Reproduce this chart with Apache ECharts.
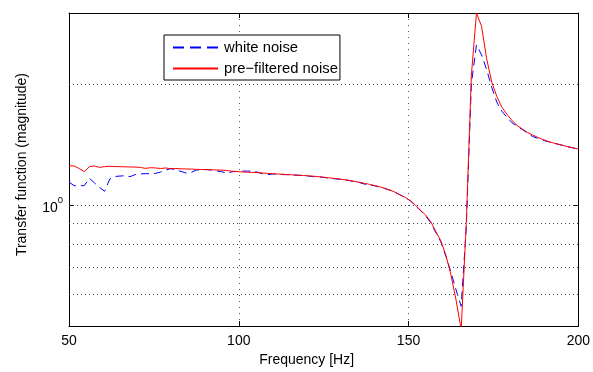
<!DOCTYPE html>
<html>
<head>
<meta charset="utf-8">
<script src="https://cdn.jsdelivr.net/npm/echarts@6/dist/echarts.min.js"></script>
<style>html,body{margin:0;padding:0;background:#fff}#c{width:593px;height:372px}</style>
</head>
<body>
<div id="c"></div>
<script>
const freqs = [50,51.5,53,54.5,56,57.5,59,60.5,62,63.5,
65,66.5,68,69.5,71,72.5,74,75.5,77,78.5,
80,81.5,83,84.5,86,87.5,89,90.5,92,93.5,
95,96.5,98,99.5,101,102.5,104,105.5,107,108.5,
110,111.5,113,114.5,116,117.5,119,120.5,122,123.5,
125,126.5,128,129.5,131,132.5,134,135.5,137,138.5,
140,141.5,143,144.5,146,147.5,149,150.5,152,153.5,
155,156.5,158,159.5,161,162.5,164,165.5,167,168.5,
170,171.5,173,174.5,176,177.5,179,180.5,182,183.5,
185,186.5,188,189.5,191,192.5,194,195.5,197,198.5,
200];
const whiteNoise = [1.140,1.117,1.117,1.117,1.165,1.135,1.105,1.082,1.160,1.177,
1.180,1.182,1.176,1.190,1.195,1.196,1.196,1.198,1.208,1.221,
1.232,1.221,1.212,1.200,1.205,1.221,1.224,1.225,1.221,1.215,
1.210,1.198,1.209,1.212,1.214,1.214,1.214,1.207,1.195,1.190,
1.194,1.193,1.190,1.189,1.187,1.185,1.183,1.180,1.176,1.174,
1.171,1.166,1.162,1.159,1.155,1.150,1.144,1.137,1.127,1.122,
1.116,1.108,1.099,1.088,1.075,1.059,1.044,1.024,0.998,0.968,
0.940,0.905,0.855,0.810,0.745,0.680,0.615,0.560,0.880,2.000,
2.500,2.360,2.170,1.960,1.800,1.710,1.650,1.600,1.570,1.540,
1.510,1.480,1.465,1.450,1.437,1.427,1.416,1.406,1.395,1.386,
1.377];
const preFiltered = [1.252,1.250,1.232,1.210,1.245,1.250,1.240,1.245,1.248,1.246,
1.245,1.244,1.243,1.242,1.240,1.233,1.238,1.236,1.232,1.236,
1.230,1.232,1.230,1.229,1.228,1.226,1.225,1.224,1.223,1.222,
1.221,1.218,1.213,1.211,1.208,1.206,1.205,1.203,1.201,1.198,
1.196,1.194,1.192,1.190,1.188,1.186,1.184,1.181,1.179,1.176,
1.172,1.168,1.165,1.161,1.156,1.151,1.145,1.139,1.132,1.125,
1.118,1.110,1.100,1.089,1.076,1.060,1.045,1.025,1.000,0.970,
0.945,0.910,0.860,0.815,0.750,0.670,0.580,0.490,0.900,2.100,
3.000,2.780,2.310,2.020,1.860,1.750,1.680,1.620,1.575,1.545,
1.515,1.493,1.473,1.455,1.440,1.427,1.416,1.406,1.395,1.386,
1.377];
const xTicks = [50,100,150,200];
const yGridValues = [0.6,0.7,0.8,0.9,1,2];
const yMin = 0.5, yMax = 3;
const seriesNames = ['white noise','pre\u2212filtered noise'];

const FONT = "'Liberation Sans', Arial, Helvetica, sans-serif";
const chart = echarts.init(document.getElementById('c'), null, {renderer:'canvas'});
const axisLineStyle = {color:'#000', width:1};
chart.setOption({
  animation:false,
  backgroundColor:'#fff',
  textStyle:{fontFamily:FONT},
  grid:{left:69, right:12, top:13, bottom:39, containLabel:false},
  legend:{
    left:164, top:35, orient:'vertical',
    backgroundColor:'#fff', borderColor:'#000', borderWidth:1, borderRadius:0,
    padding:[5,2,4,8], itemWidth:45, itemHeight:15, itemGap:6,
    itemStyle:{opacity:0},
    textStyle:{fontFamily:FONT, fontSize:14.8, color:'#000', padding:[0,0,0,1]},
    data: [
      {name: seriesNames[0], lineStyle:{type:[11,6]}},
      {name: seriesNames[1]}
    ]
  },
  xAxis:[{
    type:'value', min:xTicks[0], max:xTicks[xTicks.length-1], interval:50,
    name:'Frequency [Hz]', nameLocation:'middle', nameGap:21,
    nameTextStyle:{fontFamily:FONT, fontSize:14, color:'#000', padding:[0,34,0,0]},
    axisLine:{lineStyle:axisLineStyle},
    axisTick:{inside:true, length:5, lineStyle:axisLineStyle},
    axisLabel:{fontFamily:FONT, fontSize:14, color:'#000', margin:8},
    splitLine:{show:true, lineStyle:{type:[1,5], color:'#555', width:1}}
  },{
    type:'value', position:'top', min:xTicks[0], max:xTicks[xTicks.length-1], interval:50,
    axisLine:{show:true, lineStyle:axisLineStyle},
    axisTick:{inside:true, length:5, lineStyle:axisLineStyle},
    axisLabel:{show:false}, splitLine:{show:false}
  }],
  yAxis:[{
    type:'log', logBase:10, min:yMin, max:yMax,
    name:'Transfer function (magnitude)', nameLocation:'middle', nameGap:40,
    nameTextStyle:{fontFamily:FONT, fontSize:14, color:'#000', padding:[0,0,0,10]},
    axisLine:{show:true, lineStyle:axisLineStyle},
    axisTick:{show:true, inside:true, length:5, lineStyle:axisLineStyle},
    axisLabel:{
      margin:6, color:'#000',
      formatter:function(v){ return Math.abs(v-1)<1e-9 ? '{b|10}{s|0}' : ''; },
      rich:{
        b:{fontFamily:FONT, fontSize:14, color:'#000', verticalAlign:'bottom', lineHeight:20},
        s:{fontFamily:FONT, fontSize:9.5, color:'#000', verticalAlign:'top', lineHeight:8}
      }
    },
    splitLine:{show:false}
  },{
    type:'log', logBase:10, min:yMin, max:yMax, position:'right',
    axisLine:{show:true, lineStyle:axisLineStyle},
    axisTick:{show:true, inside:true, length:5, lineStyle:axisLineStyle},
    axisLabel:{show:false}, splitLine:{show:false}
  }],
  series:[{
    name:seriesNames[0], type:'line', xAxisIndex:0, yAxisIndex:0,
    data: freqs.map((f,i)=>[f, whiteNoise[i]]),
    symbol:'none', smooth:false, clip:true,
    lineStyle:{color:'#0000ff', width:1, type:[8,5]},
    itemStyle:{color:'#0000ff'},
    markLine:{
      silent:true, symbol:'none', label:{show:false}, animation:false,
      lineStyle:{type:[1,3], color:'#444', width:1},
      emphasis:{disabled:true},
      data: yGridValues.map(v=>({yAxis:v}))
    },
    z:2
  },{
    name:seriesNames[1], type:'line', xAxisIndex:0, yAxisIndex:0,
    data: freqs.map((f,i)=>[f, preFiltered[i]]),
    symbol:'none', smooth:false, clip:true,
    lineStyle:{color:'#ff0000', width:1},
    itemStyle:{color:'#ff0000'},
    z:3
  }]
});
</script>
</body>
</html>
